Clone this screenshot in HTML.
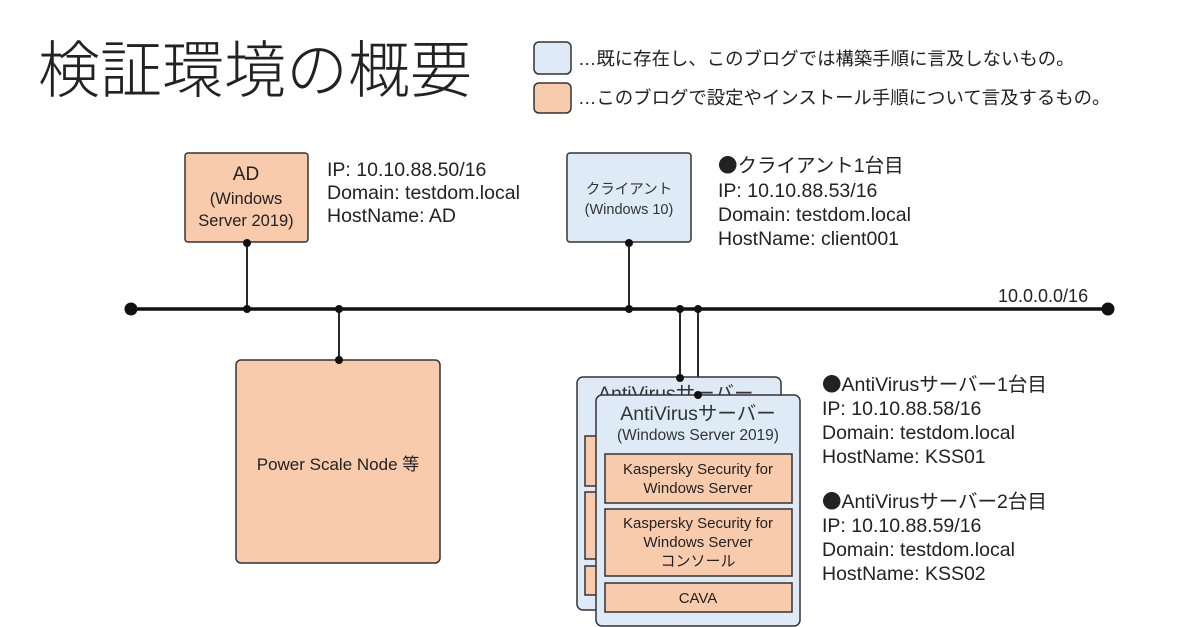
<!DOCTYPE html>
<html><head><meta charset="utf-8"><style>
html,body{margin:0;padding:0;background:#fff;}
svg{display:block;font-family:"Liberation Sans","Noto Sans CJK JP",sans-serif;}
.b{font-family:"Noto Sans CJK JP",sans-serif;}
</style></head><body>
<svg width="1200" height="627" viewBox="0 0 1200 627" xmlns="http://www.w3.org/2000/svg">
<text x="38" y="92" font-size="62" font-weight="300" fill="#222" font-family="'Noto Sans CJK JP',sans-serif">検証環境の概要</text>
<rect x="534" y="42" width="37" height="32" rx="5" fill="#DEEBF7" stroke="#333" stroke-width="1.5"/>
<rect x="534" y="83" width="37" height="30" rx="5" fill="#F8CBAD" stroke="#333" stroke-width="1.5"/>
<text x="578" y="65" font-size="18.4" fill="#222">…既に存在し、このブログでは構築手順に言及しないもの。</text>
<text x="578" y="104" font-size="18.4" fill="#222">…このブログで設定やインストール手順について言及するもの。</text>

<g stroke="#111" stroke-width="1.8">
<line x1="247" y1="242" x2="247" y2="309"/>
<line x1="629" y1="242" x2="629" y2="309"/>
<line x1="339" y1="309" x2="339" y2="360"/>
<line x1="680" y1="309" x2="680" y2="378"/>
<line x1="698" y1="309" x2="698" y2="395"/>
</g>
<line x1="131" y1="309" x2="1108" y2="309" stroke="#111" stroke-width="3.5"/>
<g fill="#111">
<circle cx="131" cy="309" r="6.5"/><circle cx="1108" cy="309" r="6.5"/>
<circle cx="247" cy="309" r="4"/><circle cx="339" cy="309" r="4"/><circle cx="629" cy="309" r="4"/>
<circle cx="680" cy="309" r="4"/><circle cx="698" cy="309" r="4"/>
</g>
<text x="998" y="302" font-size="18" fill="#222">10.0.0.0/16</text>

<rect x="185" y="153" width="123" height="89" rx="3" fill="#F8CBAD" stroke="#333" stroke-width="1.5"/>
<text text-anchor="middle" x="246" y="180" font-size="19" fill="#222">AD</text>
<text text-anchor="middle" x="246" y="204" font-size="16.5" fill="#222">(Windows</text>
<text text-anchor="middle" x="246" y="226" font-size="16.5" fill="#222">Server 2019)</text>
<circle cx="247" cy="243" r="4" fill="#111"/>
<g font-size="19.5" fill="#222">
<text x="327" y="176">IP: 10.10.88.50/16</text>
<text x="327" y="199">Domain: testdom.local</text>
<text x="327" y="222">HostName: AD</text>
</g>

<rect x="567" y="153" width="124" height="89" rx="3" fill="#DEEBF7" stroke="#333" stroke-width="1.5"/>
<text text-anchor="middle" x="629" y="194" font-size="14.5" fill="#333">クライアント</text>
<text text-anchor="middle" x="629" y="214" font-size="14.5" fill="#333">(Windows 10)</text>
<circle cx="629" cy="243" r="4" fill="#111"/>
<g font-size="19.5" fill="#222">
<text x="718" y="172"><tspan class="b">●</tspan>クライアント1台目</text>
<text x="718" y="197">IP: 10.10.88.53/16</text>
<text x="718" y="221">Domain: testdom.local</text>
<text x="718" y="245">HostName: client001</text>
</g>

<rect x="236" y="360" width="204" height="203" rx="5" fill="#F8CBAD" stroke="#333" stroke-width="1.5"/>
<circle cx="339" cy="360" r="4" fill="#111"/>
<text text-anchor="middle" x="338" y="470" font-size="17" fill="#222">Power Scale Node 等</text>

<rect x="577" y="377" width="204" height="233" rx="6" fill="#DEEBF7" stroke="#333" stroke-width="1.5"/>
<text x="598" y="400" font-size="19.5" fill="#333">AntiVirusサーバー</text>
<rect x="585" y="436" width="20" height="50" fill="#F8CBAD" stroke="#333" stroke-width="1.5"/>
<rect x="585" y="492" width="20" height="67" fill="#F8CBAD" stroke="#333" stroke-width="1.5"/>
<rect x="585" y="566" width="20" height="29" fill="#F8CBAD" stroke="#333" stroke-width="1.5"/>
<circle cx="680" cy="378" r="4" fill="#111"/>

<rect x="596" y="395" width="204" height="231" rx="6" fill="#DEEBF7" stroke="#333" stroke-width="1.5"/>
<circle cx="698" cy="395" r="4" fill="#111"/>
<text text-anchor="middle" x="698" y="420" font-size="19.5" fill="#333">AntiVirusサーバー</text>
<text text-anchor="middle" x="698" y="440" font-size="15.5" fill="#333">(Windows Server 2019)</text>
<rect x="605" y="454" width="187" height="49" fill="#F8CBAD" stroke="#333" stroke-width="1.5"/>
<text text-anchor="middle" x="698" y="474" font-size="15" fill="#222">Kaspersky Security for</text>
<text text-anchor="middle" x="698" y="493" font-size="15" fill="#222">Windows Server</text>
<rect x="605" y="509" width="187" height="67" fill="#F8CBAD" stroke="#333" stroke-width="1.5"/>
<text text-anchor="middle" x="698" y="528" font-size="15" fill="#222">Kaspersky Security for</text>
<text text-anchor="middle" x="698" y="547" font-size="15" fill="#222">Windows Server</text>
<text text-anchor="middle" x="698" y="566" font-size="15" fill="#222">コンソール</text>
<rect x="605" y="583" width="187" height="29" fill="#F8CBAD" stroke="#333" stroke-width="1.5"/>
<text text-anchor="middle" x="698" y="603" font-size="15" fill="#222">CAVA</text>

<g font-size="19.5" fill="#222">
<text x="822" y="391"><tspan class="b">●</tspan>AntiVirusサーバー1台目</text>
<text x="822" y="415">IP: 10.10.88.58/16</text>
<text x="822" y="439">Domain: testdom.local</text>
<text x="822" y="463">HostName: KSS01</text>
<text x="822" y="508"><tspan class="b">●</tspan>AntiVirusサーバー2台目</text>
<text x="822" y="532">IP: 10.10.88.59/16</text>
<text x="822" y="556">Domain: testdom.local</text>
<text x="822" y="580">HostName: KSS02</text>
</g>
</svg>
</body></html>
